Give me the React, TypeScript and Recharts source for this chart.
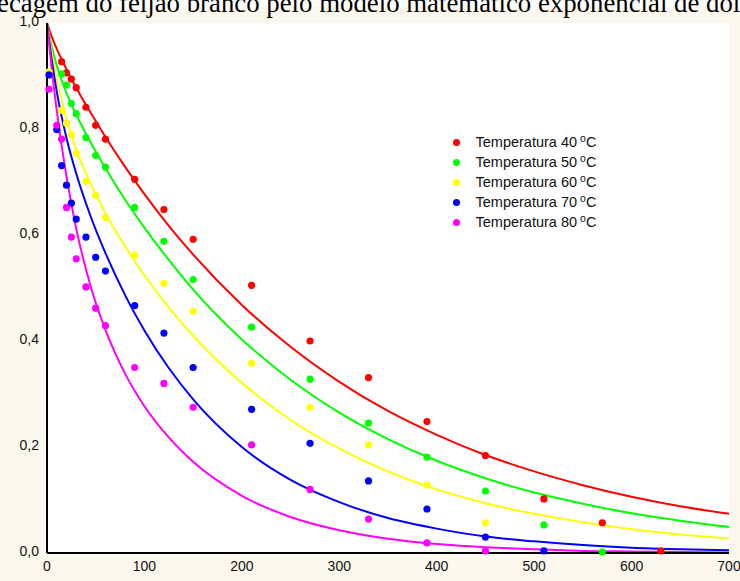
import React from "react";
import { ComposedChart, Line, Scatter, XAxis, YAxis, CartesianGrid, Legend } from "recharts";

// eixo X (tempo, min) e eixo Y (razão de umidade)
const xTicks = [0, 100, 200, 300, 400, 500, 600, 700];
const yTicks = [0, 0.2, 0.4, 0.6, 0.8, 1.0];
const yRightTicks = [0.2, 0.4, 0.6, 0.8];

const temps = ["40", "50", "60", "70", "80"];
const colors = ["#FF0000", "#00FF00", "#FFFF00", "#0000FF", "#FF00FF"];

// pontos experimentais
const t40 = [15, 20, 25, 30, 40, 50, 60, 90, 120, 150, 210, 270, 330, 390, 450, 510, 570, 630];
const obs40 = [0.927, 0.906, 0.894, 0.878, 0.841, 0.807, 0.781, 0.705, 0.648, 0.592, 0.505, 0.4, 0.331, 0.248, 0.184, 0.102, 0.057, 0.004];

const t50 = [15, 20, 25, 30, 40, 50, 60, 90, 120, 150, 210, 270, 330, 390, 450, 510, 570];
const obs50 = [0.904, 0.883, 0.848, 0.829, 0.784, 0.75, 0.728, 0.652, 0.588, 0.516, 0.426, 0.328, 0.245, 0.181, 0.117, 0.053, 0.002];

const t60 = [2, 15, 20, 25, 30, 40, 50, 60, 90, 120, 150, 210, 270, 330, 390, 450];
const obs60 = [0.908, 0.835, 0.811, 0.789, 0.754, 0.701, 0.675, 0.633, 0.562, 0.509, 0.456, 0.358, 0.275, 0.204, 0.128, 0.057];

const t70 = [2, 10, 15, 20, 25, 30, 40, 50, 60, 90, 120, 150, 210, 270, 330, 390, 450, 510];
const obs70 = [0.902, 0.799, 0.731, 0.694, 0.66, 0.63, 0.596, 0.558, 0.532, 0.467, 0.415, 0.35, 0.271, 0.207, 0.136, 0.083, 0.03, 0.004];

const t80 = [2, 10, 15, 20, 25, 30, 40, 50, 60, 90, 120, 150, 210, 270, 330, 390, 450];
const obs80 = [0.875, 0.807, 0.781, 0.652, 0.596, 0.555, 0.502, 0.462, 0.429, 0.35, 0.32, 0.275, 0.204, 0.12, 0.064, 0.019, 0.004];

// curvas do modelo
const curveT = [0, 5, 10, 20, 30, 45, 60, 80, 100, 125, 150, 200, 250, 300, 350, 400, 450, 500, 550, 600, 650, 700];
const curve40 = [1.0, 0.974, 0.951, 0.913, 0.878, 0.83, 0.785, 0.729, 0.677, 0.617, 0.563, 0.468, 0.389, 0.323, 0.268, 0.223, 0.185, 0.154, 0.128, 0.106, 0.088, 0.074];
const curve50 = [1.0, 0.955, 0.92, 0.868, 0.827, 0.774, 0.726, 0.667, 0.614, 0.553, 0.497, 0.403, 0.327, 0.265, 0.215, 0.174, 0.141, 0.114, 0.093, 0.075, 0.061, 0.049];
const curve60 = [1.0, 0.942, 0.894, 0.819, 0.762, 0.696, 0.641, 0.579, 0.524, 0.463, 0.41, 0.321, 0.251, 0.197, 0.154, 0.12, 0.094, 0.074, 0.058, 0.045, 0.035, 0.028];
const curve70 = [1.0, 0.929, 0.871, 0.783, 0.716, 0.634, 0.566, 0.487, 0.42, 0.349, 0.29, 0.2, 0.138, 0.096, 0.066, 0.046, 0.031, 0.022, 0.015, 0.01, 0.007, 0.005];
const curve80 = [1.0, 0.911, 0.835, 0.71, 0.612, 0.502, 0.421, 0.339, 0.277, 0.218, 0.172, 0.108, 0.068, 0.043, 0.027, 0.017, 0.011, 0.007, 0.004, 0.003, 0.002, 0.001];

const zip = (ts: number[], vs: number[]) => ts.map((t, i) => ({ t, v: vs[i] }));

const points = [zip(t40, obs40), zip(t50, obs50), zip(t60, obs60), zip(t70, obs70), zip(t80, obs80)];
const curves = [curve40, curve50, curve60, curve70, curve80].map((c) => zip(curveT, c));

const sans = "'Liberation Sans', Arial, sans-serif";
const fmt = (v: number) => v.toFixed(1).replace(".", ",");

const renderLegend = () => (
  <div style={{ fontFamily: sans, fontSize: 14.5, color: "#111", lineHeight: "20.2px" }}>
    {temps.map((temp, i) => (
      <div key={temp} style={{ display: "flex", alignItems: "center", height: 20.2 }}>
        <span style={{ width: 7, height: 7, borderRadius: "50%", background: colors[i], marginRight: 16, flexShrink: 0 }} />
        <span style={{ whiteSpace: "nowrap" }}>
          Temperatura {temp}
          <span style={{ fontSize: 10.5, position: "relative", top: -5, marginLeft: 3 }}>o</span>C
        </span>
      </div>
    ))}
  </div>
);

export default function App() {
  return (
    <div style={{ position: "relative", width: 740, height: 581, background: "#fff", overflow: "hidden" }}>
      <style>{`body{margin:0}`}</style>
      <div style={{ position: "absolute", left: 0, top: 7, width: 740, height: 574, background: "#FDF8EE" }} />
      <div style={{ position: "absolute", left: 0, top: 0 }}>
        <ComposedChart width={740} height={581} margin={{ top: 23, right: 11, bottom: 0, left: 0 }}>
          <CartesianGrid xAxisId="x" yAxisId="y" horizontal={false} vertical={false} fill="#fff" />
          <XAxis
            xAxisId="x"
            type="number"
            dataKey="t"
            domain={[0, 700]}
            ticks={xTicks}
            height={28}
            axisLine={{ stroke: "#000", strokeWidth: 2 }}
            tickLine={false}
            tick={{ fill: "#111", fontSize: 14, fontFamily: sans }}
          />
          <XAxis
            xAxisId="top"
            orientation="top"
            type="number"
            dataKey="t"
            domain={[0, 700]}
            ticks={xTicks}
            height={0}
            axisLine={{ stroke: "#000", strokeWidth: 2 }}
            tickSize={-5}
            tickLine={{ stroke: "#000", strokeWidth: 1.5 }}
            tick={false}
          />
          <YAxis
            yAxisId="y"
            type="number"
            domain={[0, 1]}
            ticks={yTicks}
            width={47}
            axisLine={{ stroke: "#000", strokeWidth: 2 }}
            tickLine={false}
            tickFormatter={fmt}
            tick={{ fill: "#111", fontSize: 14, fontFamily: sans, dy: -2 }}
          />
          <YAxis
            yAxisId="yr"
            orientation="right"
            type="number"
            domain={[0, 1]}
            ticks={yRightTicks}
            width={0}
            axisLine={{ stroke: "#000", strokeWidth: 2 }}
            tickSize={-5}
            tickLine={{ stroke: "#000", strokeWidth: 1.5 }}
            tick={false}
          />
          {curves.map((c, i) => (
            <Line
              key={"c" + i}
              xAxisId="x"
              yAxisId="y"
              data={c}
              dataKey="v"
              type="monotone"
              stroke={colors[i]}
              strokeWidth={2}
              dot={false}
              activeDot={false}
              isAnimationActive={false}
            />
          ))}
          {points.map((p, i) => (
            <Scatter
              key={"p" + i}
              xAxisId="x"
              yAxisId="y"
              data={p}
              dataKey="v"
              fill={colors[i]}
              isAnimationActive={false}
              shape={(props: any) => <circle cx={props.cx} cy={props.cy} r={3.6} fill={colors[i]} />}
            />
          ))}
          <Legend
            content={renderLegend}
            layout="vertical"
            verticalAlign="middle"
            align="center"
            wrapperStyle={{ position: "absolute", left: 452.5, top: 132, width: 200, height: 102 }}
          />
        </ComposedChart>
      </div>
      <svg width={740} height={30} style={{ position: "absolute", left: 0, top: 0, pointerEvents: "none" }}>
        <text x={-3} y={12} fontSize={26.8} fontFamily="'Liberation Serif', 'Times New Roman', serif" fill="#000">
          ecagem do feijão branco pelo modelo matemático exponencial de dois termos
        </text>
      </svg>
    </div>
  );
}
